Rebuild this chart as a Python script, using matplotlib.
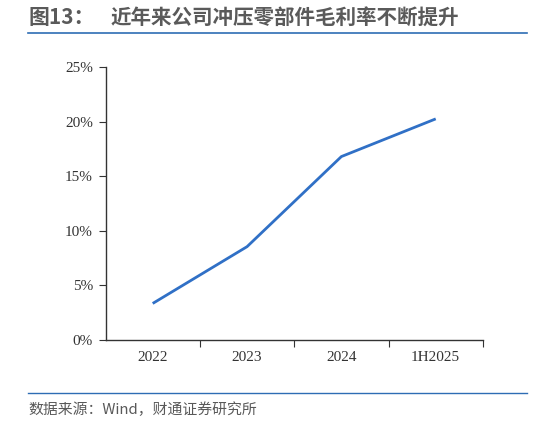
import matplotlib
matplotlib.use("Agg")
import matplotlib.pyplot as plt
from matplotlib.lines import Line2D
from matplotlib.ticker import FuncFormatter

categories = ["2022", "2023", "2024", "1H2025"]
gross_margin = [3.35, 8.55, 16.8, 20.25]
y_ticks = [0, 5, 10, 15, 20, 25]

cjk = ["Noto Sans CJK SC", "DejaVu Sans"]
serif = ["Liberation Serif", "DejaVu Serif"]

fig = plt.figure(figsize=(5.33, 4.24), dpi=100)
ax = fig.add_axes([0.198, 0.198, 0.708, 0.644])

x = list(range(len(categories)))
ax.plot(x, gross_margin, color="#3070C6", lw=2.0, solid_capstyle="butt")

ax.set_xlim(-0.5, len(categories) - 0.5)
ax.set_ylim(0, 25)
ax.set_yticks(y_ticks)
ax.yaxis.set_major_formatter(FuncFormatter(lambda v, p: f"{v:.0f}%"))
ax.set_xticks([i + 0.5 for i in range(len(categories))])
ax.set_xticklabels([])
ax.set_xticks(x, minor=True)
ax.set_xticklabels(categories, minor=True)
ax.tick_params(axis="x", which="minor", length=0, pad=8, labelsize=11, labelcolor="#333333")
ax.tick_params(axis="x", which="major", length=5, direction="out", color="#333333")
ax.tick_params(axis="y", length=5, direction="out", pad=4, labelsize=11, labelcolor="#333333", color="#333333")
for lab in ax.get_xticklabels(minor=True) + ax.get_yticklabels():
    lab.set_fontfamily(serif)
for s in ["top", "right"]:
    ax.spines[s].set_visible(False)
for s in ["left", "bottom"]:
    ax.spines[s].set_color("#333333")
    ax.spines[s].set_linewidth(1.0)

fig.text(28 / 533, 1 - 17 / 424, "图13：", family=cjk, fontsize=15, color="#5A5A5A",
         fontweight="bold", va="center", ha="left")
fig.text(111 / 533, 1 - 17 / 424, "近年来公司冲压零部件毛利率不断提升", family=cjk, fontsize=14.8,
         color="#5A5A5A", fontweight="bold", va="center", ha="left")
fig.add_artist(Line2D([28 / 533, 527 / 533], [1 - 32.5 / 424] * 2, color="#2E6DB4", lw=1.2))
fig.add_artist(Line2D([28 / 533, 527 / 533], [1 - 393 / 424] * 2, color="#2E6DB4", lw=1.0))
fig.text(28 / 533, 1 - 410 / 424, "数据来源：Wind，财通证券研究所", family=cjk, fontsize=10.7,
         color="#595959", va="center", ha="left")

fig.savefig("out.png", dpi=100)
